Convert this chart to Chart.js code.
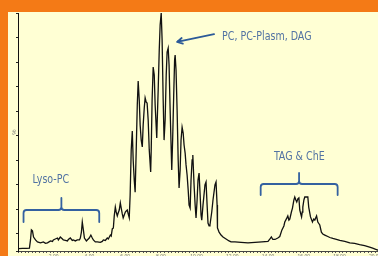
<!DOCTYPE html>
<html>
<head>
<meta charset="utf-8">
<script src="https://cdn.jsdelivr.net/npm/chart.js@4.4.1/dist/chart.umd.min.js"></script>
<style>
  html, body { margin: 0; padding: 0; }
  body { width: 378px; height: 256px; overflow: hidden; background: #F47A16; position: relative; }
  #panel { position: absolute; left: 8px; top: 12px; width: 370px; height: 244px; background: #FFFFD4; overflow: hidden; }
  #c { position: absolute; left: 0; top: 0; }
</style>
</head>
<body>
<div id="panel"><canvas id="c" width="386" height="248"></canvas></div>
<script>
// Retention time (min)
const times = [
  0.03,0.25,0.47,0.64,0.70,0.75,0.81,0.87,0.98,1.09,1.26,1.42,1.54,1.65,1.82,1.93,1.98,2.09,2.21,2.26,
  2.37,2.49,2.54,2.65,2.77,2.82,2.93,3.04,3.10,3.21,3.32,3.44,3.49,3.55,3.60,3.66,3.72,3.83,3.88,3.99,
  4.08,4.16,4.22,4.33,4.44,4.61,4.72,4.78,4.89,5.00,5.06,5.17,5.22,5.28,5.34,5.39,5.45,5.50,5.56,5.61,
  5.67,5.73,5.78,5.84,5.89,5.95,6.01,6.06,6.12,6.17,6.23,6.28,6.34,6.40,6.45,6.51,6.56,6.62,6.68,6.73,
  6.79,6.84,6.90,6.96,7.01,7.07,7.12,7.18,7.23,7.29,7.35,7.43,7.46,7.51,7.57,7.63,7.68,7.77,7.79,7.85,
  7.91,7.96,8.02,8.07,8.13,8.18,8.24,8.30,8.35,8.41,8.46,8.52,8.58,8.61,8.66,8.72,8.77,8.80,8.85,8.91,
  8.97,9.02,9.08,9.13,9.19,9.25,9.30,9.36,9.41,9.47,9.53,9.58,9.64,9.69,9.75,9.79,9.86,9.92,9.97,10.03,
  10.08,10.14,10.20,10.25,10.29,10.36,10.47,10.53,10.59,10.64,10.70,10.75,10.85,10.92,11.03,11.09,11.15,11.17,11.26,11.37,
  11.48,11.65,11.82,11.93,12.15,12.49,12.88,13.27,13.66,14.00,14.11,14.19,14.27,14.39,14.55,14.66,14.78,14.89,14.94,15.06,
  15.11,15.17,15.22,15.31,15.37,15.45,15.50,15.56,15.61,15.67,15.73,15.78,15.88,15.92,15.95,16.01,16.06,16.16,16.23,16.28,
  16.38,16.49,16.56,16.62,16.72,16.79,16.90,16.99,17.07,17.18,17.35,17.46,17.63,17.83,18.02,18.30,18.58,18.85,19.13,19.41,
  19.69,19.86,20.14,20.36
];
// Relative intensity (%)
const intensity = [
  4.0,4.1,4.1,4.2,7.5,11.6,11.2,8.7,7.5,6.7,6.3,6.7,6.1,6.3,7.1,6.9,7.5,7.9,8.3,7.5,
  8.7,7.9,7.5,7.3,7.1,7.7,8.3,7.3,7.5,7.1,7.5,7.5,8.3,10.7,14.8,11.6,8.3,7.1,7.5,8.3,
  9.5,8.3,7.5,6.7,6.7,6.5,6.9,7.5,7.3,8.3,7.9,9.5,9.1,12.0,12.4,17.3,20.9,18.9,17.3,18.5,
  19.7,22.6,20.5,18.1,16.5,17.7,18.9,19.3,19.7,18.1,16.5,25.8,44.2,51.9,40.1,31.9,27.0,44.2,62.5,72.3,
  64.5,54.4,48.2,45.4,54.4,61.3,65.4,63.7,63.3,56.4,44.2,35.2,44.2,64.5,78.0,74.7,62.5,49.1,54.4,68.6,
  84.9,95.1,100.0,89.0,64.5,48.2,56.4,74.7,84.1,85.7,78.8,60.5,44.2,36.0,48.2,66.6,80.9,82.9,76.8,60.5,
  40.1,28.7,36.0,48.2,53.5,51.1,46.2,42.9,38.1,34.0,27.9,21.7,20.5,31.9,40.1,42.1,29.9,21.7,16.5,23.8,
  31.9,34.8,25.8,17.7,15.6,21.7,29.9,31.1,21.7,14.4,13.2,13.6,18.9,23.8,29.9,31.1,21.7,12.4,10.7,9.5,
  8.7,7.9,7.1,6.7,6.7,6.5,6.3,6.5,6.7,6.9,7.9,8.7,7.7,7.7,8.3,8.9,11.6,13.2,14.8,16.5,
  17.3,15.6,16.0,18.9,20.5,23.8,25.0,23.8,23.0,24.2,24.6,19.7,16.9,18.9,20.9,23.8,25.0,25.0,25.0,20.9,
  16.9,14.8,16.0,15.6,17.3,14.8,13.6,10.7,9.9,9.5,8.9,8.5,8.1,7.7,7.3,6.9,6.3,6.1,5.6,5.2,
  4.6,4.2,3.4,3.2
];
// Axis labels / annotation texts
const xTickLabelEvery = 2;
const yTitle = '%';
const labelPC = 'PC, PC-Plasm, DAG';
const labelLyso = 'Lyso-PC';
const labelTAG = 'TAG & ChE';

// Annotation anchors in data units (time, intensity)
const annotations = {
  pcText:   { t: 11.43, v: 90.2 },
  pcArrow:  { t0: 10.98, v0: 91.4, t1: 8.91, v1: 88.2 },
  lysoText: { t: 0.81, v: 31.9 },
  lysoBrace:{ t1: 0.31, t2: 4.55, tm: 2.43, vLine: 19.7, vLeg: 14.8, vTip: 24.6 },
  tagText:  { t: 14.33, v: 41.3 },
  tagBrace: { t1: 13.59, t2: 17.90, tm: 15.74, vLine: 30.3, vLeg: 25.8, vTip: 34.8 }
};

const FONT = '12px "Liberation Sans Narrow", "DejaVu Sans Condensed", "Arial Narrow", sans-serif';
const CONDENSE = 0.88;

function drawText(ctx, text, px, py) {
  ctx.save();
  ctx.translate(px, py);
  ctx.scale(CONDENSE, 1);
  ctx.fillText(text, 0, 0);
  ctx.restore();
}

function drawBrace(ctx, x, y, b) {
  const x1 = x.getPixelForValue(b.t1), x2 = x.getPixelForValue(b.t2), xm = x.getPixelForValue(b.tm);
  const yl = y.getPixelForValue(b.vLine), yg = y.getPixelForValue(b.vLeg), yt = y.getPixelForValue(b.vTip);
  const r = 3;
  ctx.beginPath();
  ctx.moveTo(x1, yg);
  ctx.lineTo(x1, yl + r);
  ctx.quadraticCurveTo(x1, yl, x1 + r, yl);
  ctx.lineTo(xm - r, yl);
  ctx.quadraticCurveTo(xm, yl, xm, yl - r);
  ctx.lineTo(xm, yt);
  ctx.moveTo(xm, yl - r);
  ctx.quadraticCurveTo(xm, yl, xm + r, yl);
  ctx.lineTo(x2 - r, yl);
  ctx.quadraticCurveTo(x2, yl, x2, yl + r);
  ctx.lineTo(x2, yg);
  ctx.stroke();
}

const annotPlugin = {
  id: 'annot',
  afterDatasetsDraw(chart) {
    const { ctx, scales: { x, y } } = chart;
    ctx.save();
    ctx.font = FONT;
    ctx.textBaseline = 'middle';
    ctx.textAlign = 'left';
    ctx.fillStyle = '#5273A3';
    const a = annotations;
    drawText(ctx, labelPC, x.getPixelForValue(a.pcText.t), y.getPixelForValue(a.pcText.v));
    drawText(ctx, labelLyso, x.getPixelForValue(a.lysoText.t), y.getPixelForValue(a.lysoText.v));
    drawText(ctx, labelTAG, x.getPixelForValue(a.tagText.t), y.getPixelForValue(a.tagText.v));

    ctx.strokeStyle = '#3461A0';
    ctx.lineWidth = 1.8;
    ctx.lineCap = 'round';
    ctx.lineJoin = 'round';
    drawBrace(ctx, x, y, a.lysoBrace);
    drawBrace(ctx, x, y, a.tagBrace);

    // arrow
    const ax0 = x.getPixelForValue(a.pcArrow.t0), ay0 = y.getPixelForValue(a.pcArrow.v0);
    const ax1 = x.getPixelForValue(a.pcArrow.t1), ay1 = y.getPixelForValue(a.pcArrow.v1);
    ctx.strokeStyle = '#2C5A98';
    ctx.beginPath();
    ctx.moveTo(ax0, ay0);
    ctx.lineTo(ax1, ay1);
    const ang = Math.atan2(ay1 - ay0, ax1 - ax0);
    const hl = 6;
    ctx.moveTo(ax1 - hl * Math.cos(ang - 0.5), ay1 - hl * Math.sin(ang - 0.5));
    ctx.lineTo(ax1, ay1);
    ctx.lineTo(ax1 - hl * Math.cos(ang + 0.5), ay1 - hl * Math.sin(ang + 0.5));
    ctx.stroke();
    ctx.restore();
  }
};

new Chart(document.getElementById('c'), {
  type: 'line',
  data: {
    datasets: [{
      data: times.map((t, i) => ({ x: t, y: intensity[i] })),
      borderColor: '#111111',
      borderWidth: 1.3,
      pointRadius: 0,
      tension: 0,
      fill: false
    }]
  },
  options: {
    responsive: false,
    animation: false,
    devicePixelRatio: 1,
    layout: { padding: { top: 1, left: 0, right: 0, bottom: 0 } },
    plugins: { legend: { display: false }, tooltip: { enabled: false } },
    scales: {
      x: {
        type: 'linear', min: 0, max: 21,
        afterFit(s) { s.height = 9; },
        grid: { drawOnChartArea: false, drawTicks: true, tickLength: 2, color: '#555' },
        border: { color: '#444', width: 1 },
        ticks: {
          stepSize: 0.2, autoSkip: false, maxRotation: 0, minRotation: 0, padding: 1,
          font: { size: 5, family: 'Liberation Sans' }, color: '#777',
          callback(v) {
            const q = v / xTickLabelEvery;
            return (v > 0 && Math.abs(q - Math.round(q)) < 1e-6) ? v.toFixed(2) : '';
          }
        }
      },
      y: {
        type: 'linear', min: 3, max: 100,
        afterFit(s) { s.width = 10; },
        grid: { drawOnChartArea: false, drawTicks: true, tickLength: 2, color: '#222' },
        border: { color: '#111', width: 1 },
        ticks: { stepSize: 10, display: false },
        title: { display: true, text: yTitle, font: { size: 6, family: 'Liberation Sans' }, color: '#777', padding: { top: 3, bottom: 0 } }
      }
    }
  },
  plugins: [annotPlugin]
});
</script>
</body>
</html>
